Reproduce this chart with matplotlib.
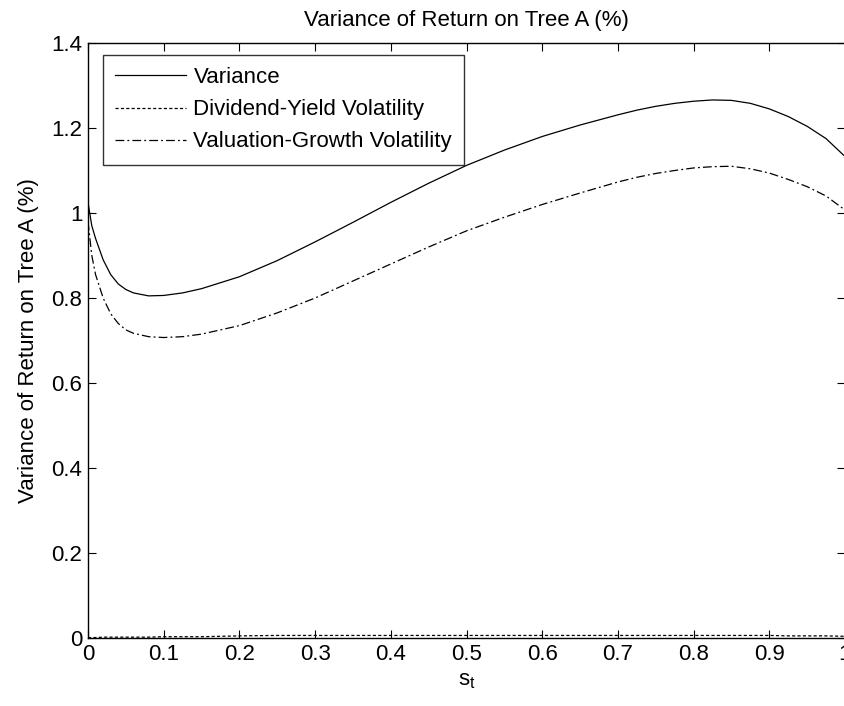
import numpy as np
import matplotlib.pyplot as plt

plt.rcParams['font.family'] = ['Liberation Sans', 'DejaVu Sans']

# s_t grid and curves
s_t = [0, 0.005, 0.01, 0.02, 0.03, 0.04, 0.05, 0.06, 0.08, 0.1, 0.125, 0.15,
       0.2, 0.25, 0.3, 0.35, 0.4, 0.45, 0.5, 0.55, 0.6, 0.65, 0.7, 0.725,
       0.75, 0.775, 0.8, 0.825, 0.85, 0.875, 0.9, 0.925, 0.95, 0.975, 1.0]
variance = [1.025, 0.97, 0.94, 0.89, 0.855, 0.833, 0.82, 0.812, 0.805, 0.806,
            0.812, 0.822, 0.85, 0.888, 0.932, 0.978, 1.025, 1.07, 1.112,
            1.148, 1.18, 1.207, 1.231, 1.242, 1.251, 1.258, 1.263, 1.266,
            1.265, 1.258, 1.245, 1.227, 1.204, 1.175, 1.133]
dividend_yield = [0.001, 0.001, 0.001, 0.002, 0.002, 0.002, 0.002, 0.002,
                  0.002, 0.003, 0.003, 0.003, 0.005, 0.006, 0.006, 0.006,
                  0.006, 0.006, 0.006, 0.006, 0.006, 0.006, 0.006, 0.006,
                  0.006, 0.006, 0.006, 0.006, 0.006, 0.006, 0.006, 0.005,
                  0.005, 0.005, 0.004]
valuation_growth = [0.98, 0.9, 0.855, 0.8, 0.763, 0.74, 0.725, 0.717, 0.709,
                    0.707, 0.709, 0.715, 0.735, 0.765, 0.8, 0.84, 0.88, 0.92,
                    0.958, 0.99, 1.02, 1.047, 1.073, 1.084, 1.093, 1.1, 1.106,
                    1.109, 1.11, 1.104, 1.094, 1.079, 1.062, 1.04, 1.007]

xticks = np.arange(0, 1.01, 0.1)
xticklabels = ['0', '0.1', '0.2', '0.3', '0.4', '0.5', '0.6', '0.7', '0.8', '0.9', '1']
yticks = np.arange(0, 1.41, 0.2)
yticklabels = ['0', '0.2', '0.4', '0.6', '0.8', '1', '1.2', '1.4']

fs = 16

fig = plt.figure(figsize=(8.44, 7.06), dpi=100)
ax = fig.add_axes([88 / 844, 68 / 706, 757 / 844, 595 / 706])

ax.plot(s_t, variance, color='black', lw=0.9, ls='-', label='Variance')
ax.plot(s_t, dividend_yield, color='black', lw=0.9, ls=(0, (2.5, 1.8)),
        label='Dividend-Yield Volatility')
ax.plot(s_t, valuation_growth, color='black', lw=0.9, ls=(0, (7, 2.5, 1.5, 2.5)),
        label='Valuation-Growth Volatility')

ax.set_xlim(0, 1)
ax.set_ylim(0, 1.4)
ax.set_xticks(xticks)
ax.set_xticklabels(xticklabels)
ax.set_yticks(yticks)
ax.set_yticklabels(yticklabels)
ax.tick_params(direction='in', length=6, width=0.8, top=True, right=True,
               labelsize=fs, pad=4)
for sp in ax.spines.values():
    sp.set_linewidth(1.0)

ax.set_title('Variance of Return on Tree A (%)', fontsize=fs, pad=12)
ax.set_xlabel('s$_\\mathregular{t}$', fontsize=fs, labelpad=4)
ax.set_ylabel('Variance of Return on Tree A (%)', fontsize=fs, labelpad=9)

leg = ax.legend(loc='upper left', fontsize=fs, frameon=True, fancybox=False,
                edgecolor='black', borderpad=0.55, handlelength=3.2,
                handletextpad=0.32, labelspacing=0.5,
                bbox_to_anchor=(15 / 757, 1 - 12 / 595), borderaxespad=0)
leg.get_frame().set_linewidth(1.0)

fig.savefig('out.png', dpi=100)
